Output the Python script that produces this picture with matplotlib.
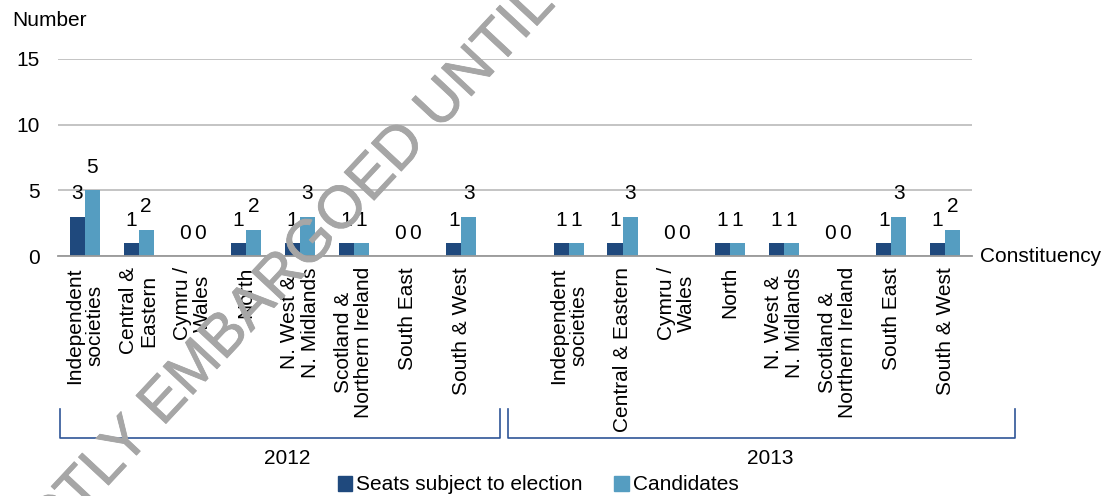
import numpy as np
import matplotlib
matplotlib.use("Agg")
import matplotlib.pyplot as plt
import matplotlib.patheffects as pe
from matplotlib.lines import Line2D
from matplotlib.patches import Patch

plt.rcParams["font.family"] = ["Liberation Sans", "DejaVu Sans"]

# Data
years = ["2012", "2013"]
labels_2012 = ["Independent\nsocieties", "Central &\nEastern", "Cymru /\nWales", "North",
               "N. West &\nN. Midlands", "Scotland &\nNorthern Ireland", "South East", "South & West"]
labels_2013 = ["Independent\nsocieties", "Central & Eastern", "Cymru /\nWales", "North",
               "N. West &\nN. Midlands", "Scotland &\nNorthern Ireland", "South East", "South & West"]
seats_2012 = [3, 1, 0, 1, 1, 1, 0, 1]
cands_2012 = [5, 2, 0, 2, 3, 1, 0, 3]
seats_2013 = [1, 1, 0, 1, 1, 0, 1, 1]
cands_2013 = [1, 3, 0, 1, 1, 0, 3, 2]
yticks = [0, 5, 10, 15]

DARK = "#1F497D"
LIGHT = "#559DC1"
W, H = 1110, 496
FS = 15

fig = plt.figure(figsize=(W / 100, H / 100), dpi=100)
ax = fig.add_axes([58 / W, 1 - 256 / H, (972 - 58) / W, (256 - 59) / H])

# one empty slot between the two years
x12 = np.arange(8)
x13 = np.arange(8) + 9
x = np.concatenate([x12, x13])
seats = seats_2012 + seats_2013
cands = cands_2012 + cands_2013
bw = 0.28

b1 = ax.bar(x - bw / 2, seats, bw, color=DARK, zorder=3)
b2 = ax.bar(x + bw / 2, cands, bw, color=LIGHT, zorder=3)
for bars in (b1, b2):
    for rect in bars:
        ax.annotate(f"{int(rect.get_height())}",
                    (rect.get_x() + rect.get_width() / 2, rect.get_height()),
                    xytext=(0, 12.5), textcoords="offset points",
                    ha="center", va="baseline", fontsize=FS)

ax.set_xlim(-0.5, 16.5)
ax.set_ylim(0, 15)
ax.set_yticks(yticks)
ax.yaxis.grid(True, color="#BFBFBF", linewidth=1.3, zorder=0)
ax.set_axisbelow(True)
for s in ("top", "right", "left"):
    ax.spines[s].set_visible(False)
ax.spines["bottom"].set_color("#999999")
ax.spines["bottom"].set_linewidth(1.3)
ax.spines["bottom"].set_zorder(4)
ax.tick_params(axis="y", length=0, pad=13, labelsize=FS)
ax.set_xticks(x)
ax.set_xticklabels(labels_2012 + labels_2013, rotation=90, fontsize=FS)
ax.tick_params(axis="x", length=0, pad=8)
for lbl in ax.get_xticklabels():
    lbl.set_multialignment("center")
    lbl.set_linespacing(1.1)

fig.text(12 / W, 1 - 20 / H, "Number", fontsize=FS, va="center", ha="left")
fig.text(980 / W, 1 - 256 / H, "Constituency", fontsize=FS, va="center", ha="left")

# year brackets under the category labels
BR = "#2F5597"
def bracket(x0, x1, ytop=409, ybot=438):
    xs = [x0 / W, x0 / W, x1 / W, x1 / W]
    ys = [1 - ytop / H, 1 - ybot / H, 1 - ybot / H, 1 - ytop / H]
    fig.add_artist(Line2D(xs, ys, color=BR, linewidth=1.2, transform=fig.transFigure))

bracket(60, 500)
bracket(508, 1015)
fig.text(287 / W, 1 - 458 / H, years[0], fontsize=FS, ha="center", va="center")
fig.text(770 / W, 1 - 458 / H, years[1], fontsize=FS, ha="center", va="center")

handles = [Patch(color=DARK, label="Seats subject to election"),
           Patch(color=LIGHT, label="Candidates")]
fig.legend(handles=handles, loc="center", bbox_to_anchor=(538 / W, 1 - 485 / H), ncol=2,
           frameon=False, fontsize=FS, handlelength=0.7, handleheight=0.7,
           handletextpad=0.2, columnspacing=1.5)

# watermark
wm = fig.text(246 / W, 1 - 315 / H, "STRICTLY EMBARGOED UNTIL", fontsize=43, color="#A6A6A6",
              rotation=47, rotation_mode="anchor", ha="center", va="center", zorder=10)
wm.set_path_effects([pe.withStroke(linewidth=0.6, foreground="#A6A6A6")])

fig.savefig("out.png", dpi=100)
